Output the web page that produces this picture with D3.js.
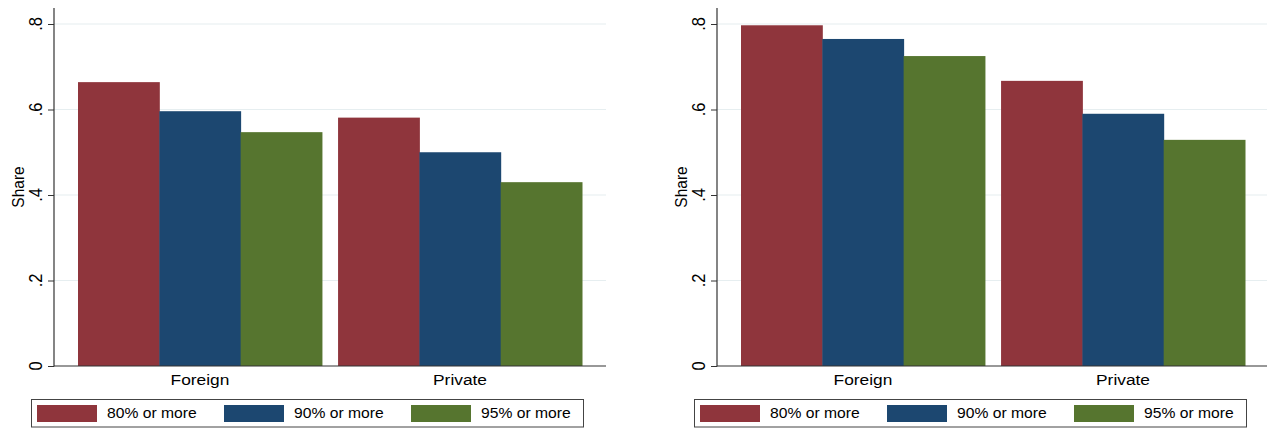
<!DOCTYPE html>
<html>
<head>
<meta charset="utf-8">
<script src="https://cdn.jsdelivr.net/npm/d3@7"></script>
<style>
  html, body { margin: 0; padding: 0; background: #fff; }
  svg { display: block; font-family: "Liberation Sans", Arial, sans-serif; }
</style>
</head>
<body>
<svg id="chart" width="1267" height="428"></svg>
<script>
// ---- data ----
const categories = ["Foreign", "Private"];
const seriesNames = ["80% or more", "90% or more", "95% or more"];
const seriesColors = ["#8f353c", "#1c4770", "#56752f"];
const yTicks = [0, 0.2, 0.4, 0.6, 0.8];
const yTickLabels = ["0", ".2", ".4", ".6", ".8"];
const yTitle = "Share";

// left panel values (per category, per series)
const leftShare80 = [0.664, 0.581];
const leftShare90 = [0.596, 0.500];
const leftShare95 = [0.547, 0.430];
// right panel values
const rightShare80 = [0.797, 0.667];
const rightShare90 = [0.765, 0.590];
const rightShare95 = [0.725, 0.529];

const panels = [
  { offset: 0, series: [leftShare80, leftShare90, leftShare95] },
  { offset: 663, series: [rightShare80, rightShare90, rightShare95] }
];

// ---- layout ----
const SX = 1.12; // horizontal stretch of the original image
const svg = d3.select("#chart");
const plotL = 54, plotR = 606, plotTop = 8, y0 = 366, y08 = 24;

panels.forEach(p => {
  const g = svg.append("g").attr("transform", `translate(${p.offset},0)`);

  const y = d3.scaleLinear().domain([0, 0.8]).range([y0, y08]);
  const x0 = d3.scaleBand().domain(categories).range([plotL + 24, plotR - 24]).paddingInner(0.062);
  const x1 = d3.scaleBand().domain(seriesNames).range([0, x0.bandwidth()]).padding(0);

  // gridlines
  g.append("g").selectAll("line").data(yTicks.filter(d => d > 0)).join("line")
    .attr("x1", plotL).attr("x2", plotR)
    .attr("y1", d => y(d)).attr("y2", d => y(d))
    .attr("stroke", "#e6eef0").attr("stroke-width", 1.2);

  // bars
  const rows = categories.map((c, i) => ({ cat: c, vals: seriesNames.map((s, j) => ({ s, v: p.series[j][i], j })) }));
  g.append("g").selectAll("g").data(rows).join("g")
    .attr("transform", d => `translate(${x0(d.cat)},0)`)
    .selectAll("rect").data(d => d.vals).join("rect")
    .attr("x", d => x1(d.s)).attr("width", x1.bandwidth() + 0.5)
    .attr("y", d => y(d.v)).attr("height", d => y(0) - y(d.v))
    .attr("fill", d => seriesColors[d.j]);

  // y axis
  const yAxis = d3.axisLeft(y).tickValues(yTicks).tickSize(6).tickFormat("");
  const ya = g.append("g").attr("transform", `translate(${plotL},0)`).call(yAxis);
  ya.select(".domain").remove();
  ya.selectAll(".tick line").attr("stroke", "#333");
  g.append("line").attr("x1", plotL).attr("x2", plotL).attr("y1", plotTop).attr("y2", y0 + 0.5)
    .attr("stroke", "#333").attr("stroke-width", 1.2);
  // y tick labels (rotated)
  g.append("g").selectAll("text").data(yTicks).join("text")
    .attr("transform", (d) => `translate(41.5,${y(d)}) scale(${SX},1) rotate(-90)`)
    .attr("text-anchor", "middle").attr("font-size", 16.5).attr("fill", "#000")
    .text((d, i) => yTickLabels[i]);
  // y title
  g.append("text")
    .attr("transform", `translate(24,${(y0 + plotTop) / 2}) scale(${SX},1) rotate(-90)`)
    .attr("text-anchor", "middle").attr("font-size", 15.5).attr("fill", "#000")
    .text(yTitle);

  // x axis
  g.append("line").attr("x1", plotL).attr("x2", plotR).attr("y1", y0).attr("y2", y0)
    .attr("stroke", "#333").attr("stroke-width", 1.2);
  g.append("g").selectAll("text").data(categories).join("text")
    .attr("transform", d => `translate(${x0(d) + x0.bandwidth() / 2},385) scale(${SX},1)`)
    .attr("text-anchor", "middle").attr("font-size", 15.5).attr("fill", "#000")
    .text(d => d);

  // legend
  const lg = g.append("g");
  lg.append("rect").attr("x", 31.5).attr("y", 399.5).attr("width", 552).attr("height", 27.5)
    .attr("fill", "#fff").attr("stroke", "#444").attr("stroke-width", 1);
  const items = lg.selectAll("g.item").data(seriesNames).join("g").attr("class", "item")
    .attr("transform", (d, i) => `translate(${37 + i * 187},0)`);
  items.append("rect").attr("x", 0).attr("y", 405).attr("width", 60).attr("height", 17)
    .attr("fill", (d, i) => seriesColors[i]);
  items.append("text")
    .attr("transform", `translate(70,418.3) scale(${SX},1)`)
    .attr("font-size", 14).attr("fill", "#000")
    .text(d => d);
});
</script>
</body>
</html>
